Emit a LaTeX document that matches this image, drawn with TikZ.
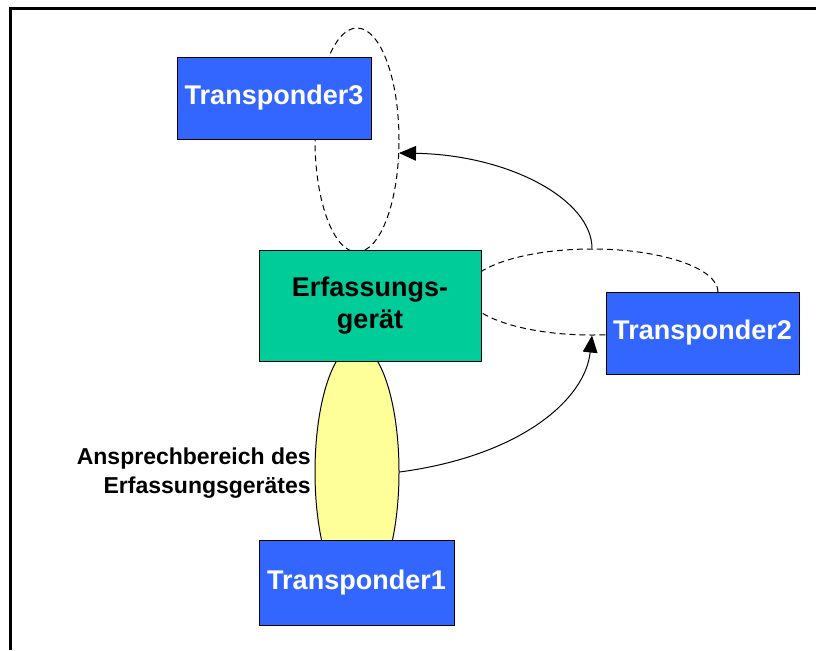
\documentclass[tikz,border=0pt]{standalone}
\usepackage{fontspec}
\setmainfont{Liberation Sans}
\usetikzlibrary{shapes.geometric,arrows.meta}
\definecolor{tblue}{HTML}{3366FF}
\definecolor{tgreen}{HTML}{00CC99}
\definecolor{tyellow}{HTML}{FFFF99}
\tikzset{
  tbox/.style={draw=black, line width=0.75pt, fill=tblue, text=white, inner sep=0pt,
    font=\bfseries\fontsize{20.25}{24}\selectfont, minimum width=#1},
  tbox/.default=145.5pt,
  loop/.style={draw=black, ellipse, line width=0.75pt, dash pattern=on 4.5pt off 3pt, inner sep=0pt},
  arr/.style={draw=black, line width=0.75pt, -{Triangle[length=12.75pt, width=11pt]}},
}
\begin{document}
\begin{tikzpicture}[x=0.75pt, y=-0.75pt]
\useasboundingbox (0,0) rectangle (816,650);
% frame
\draw[line width=2.25pt] (10.5,650) -- (10.5,8.3) -- (816,8.3);
% dashed loops
\node[loop, minimum width=63pt, minimum height=168pt] (loopA) at (357,140) {};
\node[loop, minimum width=189pt, minimum height=64.5pt] (loopB) at (592,292) {};
% response zone
\node[ellipse, draw=black, line width=0.75pt, fill=tyellow, inner sep=0pt,
      minimum width=63pt, minimum height=190.5pt] (zone) at (357,472) {};
% boxes
\node[tbox, minimum height=61.5pt] (t3) at (274,98) {Transponder3};
\node[tbox=144.75pt, minimum height=61.5pt] (t2) at (702.5,333) {Transponder2};
\node[tbox=146.25pt, minimum height=63.75pt] (t1) at (356.5,582.5) {Transponder1};
\node[draw=black, line width=0.75pt, fill=tgreen, text=black, inner sep=0pt, align=center,
      font=\bfseries\fontsize{20.25}{24}\selectfont,
      minimum width=166.5pt, minimum height=83.25pt] (reader) at (370,305.5) {Erfassungs-\\gerät};
% label
\node[anchor=east, align=right, inner sep=0pt, font=\bfseries\fontsize{17.25}{21.75}\selectfont]
  (lbl) at (311,473) {Ansprechbereich des\\Erfassungsgerätes};
% arrows
\draw[arr] (loopB.north) .. controls (592,200) and (510,155) .. (399,153) coordinate (a1end);
\draw[arr] (zone.east) .. controls (520,456) and (585,400) .. (loopB.south);
\end{tikzpicture}
\end{document}
